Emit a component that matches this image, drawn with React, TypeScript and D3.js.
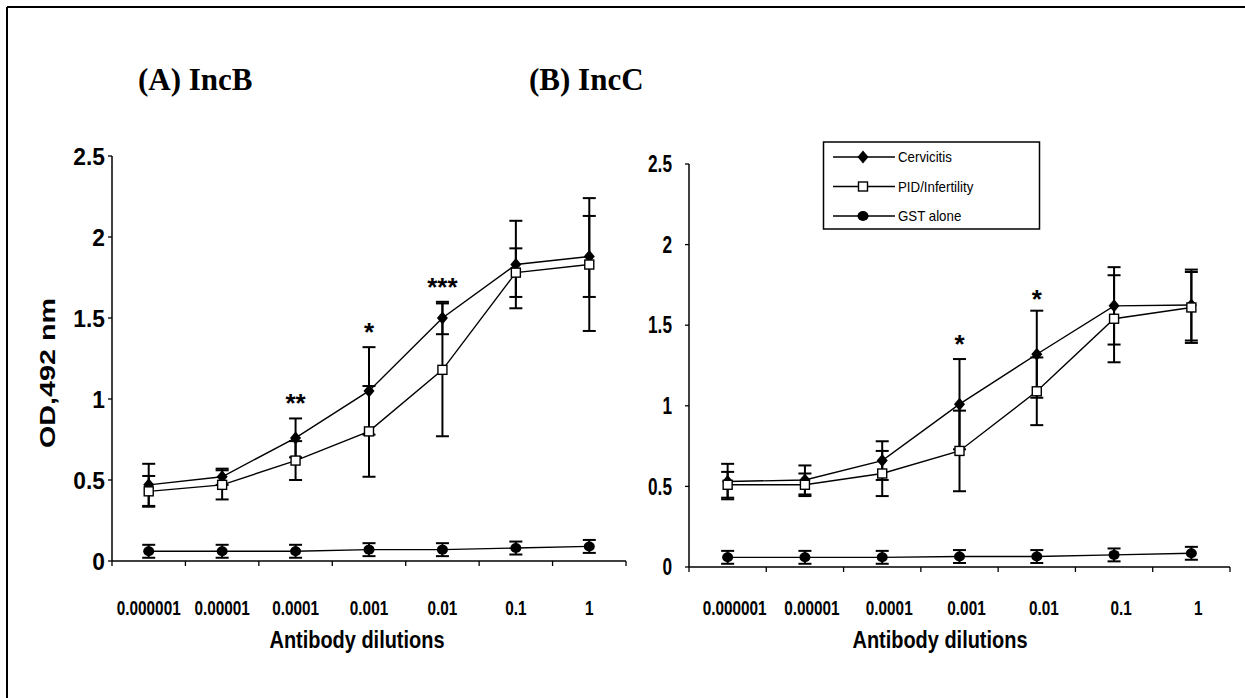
import React from 'react';
import * as d3 from 'd3';

// ---------- data ----------
const dilutions = ["0.000001", "0.00001", "0.0001", "0.001", "0.01", "0.1", "1"];
const seriesNames = ["Cervicitis", "PID/Infertility", "GST alone"];
const yTicks = [0, 0.5, 1, 1.5, 2, 2.5];
const yTickLabels = ["0", "0.5", "1", "1.5", "2", "2.5"];

// (A) IncB
const incBCervicitis = [0.47, 0.52, 0.76, 1.05, 1.50, 1.83, 1.88];
const incBCervicitisErr = [0.13, 0.05, 0.12, 0.27, 0.10, 0.27, 0.25];
const incBPid = [0.43, 0.47, 0.62, 0.80, 1.18, 1.78, 1.83];
const incBPidErr = [0.095, 0.09, 0.12, 0.28, 0.41, 0.15, 0.41];
const incBGst = [0.06, 0.06, 0.06, 0.07, 0.07, 0.08, 0.09];
const incBGstErr = [0.04, 0.04, 0.04, 0.04, 0.04, 0.04, 0.04];
const incBSigLabels = ["", "", "**", "*", "***", "", ""];
const incBSigLevels = [0, 0, 1.01, 1.45, 1.73, 0, 0];

// (B) IncC
const incCCervicitis = [0.53, 0.54, 0.66, 1.01, 1.32, 1.62, 1.625];
const incCCervicitisErr = [0.11, 0.09, 0.12, 0.28, 0.27, 0.24, 0.22];
const incCPid = [0.51, 0.51, 0.58, 0.72, 1.09, 1.54, 1.61];
const incCPidErr = [0.08, 0.07, 0.14, 0.25, 0.21, 0.27, 0.22];
const incCGst = [0.06, 0.06, 0.06, 0.065, 0.065, 0.075, 0.085];
const incCGstErr = [0.04, 0.04, 0.04, 0.04, 0.04, 0.04, 0.04];
const incCSigLabels = ["", "", "", "*", "*", "", ""];
const incCSigLevels = [0, 0, 0, 1.42, 1.70, 0, 0];

const titles = ["(A) IncB", "(B) IncC"];
const xAxisTitle = "Antibody dilutions";
const yAxisTitle = "OD,492 nm";

// ---------- drawing ----------
const SANS = "'Liberation Sans', Arial, Helvetica, sans-serif";
const SERIF = "'Liberation Serif', 'Times New Roman', serif";

type MarkerType = 'diamond' | 'square' | 'circle';

function Marker({ type, x, y }: { type: MarkerType; x: number; y: number }) {
  if (type === 'diamond') {
    return <path d={`M${x},${y - 6.5}L${x + 5.5},${y}L${x},${y + 6.5}L${x - 5.5},${y}Z`} fill="#000" />;
  }
  if (type === 'square') {
    return <rect x={x - 4.5} y={y - 4.5} width={9} height={9} fill="#fff" stroke="#000" strokeWidth={1.4} />;
  }
  return <ellipse cx={x} cy={y} rx={5.5} ry={5} fill="#000" />;
}

function SText({ x, y, sx, size, anchor, children, weight = 'bold' }: any) {
  return (
    <text
      transform={`translate(${x},${y}) scale(${sx},1)`}
      textAnchor={anchor}
      fontSize={size}
      fontFamily={SANS}
      fontWeight={weight}
      fill="#000"
    >
      {children}
    </text>
  );
}

interface PanelProps {
  x0: number; x1: number; yTop: number; yBottom: number;
  series: { vals: number[]; errs: number[]; marker: MarkerType }[];
  sigLabels: string[]; sigLevels: number[];
  yLabelGap: number; yLabelSx: number; yLabelSize: number;
  xLabelShift: number;
  xTitleX: number;
}

function Panel(p: PanelProps) {
  const x = d3.scaleBand<string>().domain(dilutions).range([p.x0, p.x1]);
  const y = d3.scaleLinear().domain([0, 2.5]).range([p.yBottom, p.yTop]);
  const cx = (i: number) => (x(dilutions[i]) as number) + x.bandwidth() / 2;
  const line = d3.line<number>().x((_, i) => cx(i)).y((v) => y(v));
  const tickXs = [...dilutions.map((d) => x(d) as number), p.x1];
  const capHalf = 6.5;

  return (
    <g>
      {/* axes */}
      <line x1={p.x0} x2={p.x0} y1={y(0)} y2={y(2.5)} stroke="#000" strokeWidth={1.5} />
      <line x1={p.x0} x2={p.x1} y1={y(0)} y2={y(0)} stroke="#000" strokeWidth={1.5} />
      {yTicks.map((t, i) => (
        <g key={'yt' + i}>
          <line x1={p.x0 - 4} x2={p.x0} y1={y(t)} y2={y(t)} stroke="#000" strokeWidth={1.3} />
          <SText x={p.x0 - p.yLabelGap} y={y(t) + p.yLabelSize * 0.36} sx={p.yLabelSx} size={p.yLabelSize} anchor="end">
            {yTickLabels[i]}
          </SText>
        </g>
      ))}
      {tickXs.map((tx, i) => (
        <line key={'xt' + i} x1={tx} x2={tx} y1={y(0)} y2={y(0) + 5} stroke="#000" strokeWidth={1.3} />
      ))}
      {dilutions.map((d, i) => (
        <SText key={'xl' + i} x={cx(i) + p.xLabelShift} y={615} sx={0.73} size={21} anchor="middle">
          {d}
        </SText>
      ))}
      <text
        x={p.xTitleX}
        y={648}
        textAnchor="middle"
        fontFamily={SANS}
        fontWeight="bold"
        fontSize={23}
        textLength={175}
        lengthAdjust="spacingAndGlyphs"
      >
        {xAxisTitle}
      </text>

      {/* series lines */}
      {p.series.map((s, k) => (
        <path key={'ln' + k} d={line(s.vals) as string} fill="none" stroke="#000" strokeWidth={1.4} />
      ))}
      {/* error bars */}
      {p.series.map((s, k) =>
        s.vals.map((v, i) => {
          const xx = cx(i);
          const top = y(v + s.errs[i]);
          const bot = y(v - s.errs[i]);
          return (
            <g key={'eb' + k + '-' + i} stroke="#000" strokeWidth={2}>
              <line x1={xx} x2={xx} y1={top} y2={bot} />
              <line x1={xx - capHalf} x2={xx + capHalf} y1={top} y2={top} />
              <line x1={xx - capHalf} x2={xx + capHalf} y1={bot} y2={bot} />
            </g>
          );
        })
      )}
      {/* markers */}
      {p.series.map((s, k) =>
        s.vals.map((v, i) => <Marker key={'mk' + k + '-' + i} type={s.marker} x={cx(i)} y={y(v)} />)
      )}
      {/* significance */}
      {p.sigLabels.map((l, i) =>
        l ? (
          <text
            key={'sg' + i}
            x={cx(i)}
            y={y(p.sigLevels[i]) + 26 * 0.58}
            textAnchor="middle"
            fontFamily={SANS}
            fontWeight="bold"
            fontSize={26}
          >
            {l}
          </text>
        ) : null
      )}
    </g>
  );
}

export default function App() {
  const legendItems: { name: string; marker: MarkerType }[] = [
    { name: seriesNames[0], marker: 'diamond' },
    { name: seriesNames[1], marker: 'square' },
    { name: seriesNames[2], marker: 'circle' },
  ];
  return (
    <svg
      width={1245}
      height={698}
      viewBox="0 0 1245 698"
      style={{ position: 'absolute', left: 0, top: 0, background: '#fff' }}
    >
      <rect x={0} y={0} width={1245} height={698} fill="#fff" />
      {/* frame */}
      <line x1={7} x2={1245} y1={7} y2={7} stroke="#000" strokeWidth={2} />
      <line x1={7} x2={7} y1={7} y2={698} stroke="#000" strokeWidth={2} />

      {/* titles */}
      <text x={138} y={90} fontFamily={SERIF} fontWeight="bold" fontSize={31}>{titles[0]}</text>
      <text x={529} y={90} fontFamily={SERIF} fontWeight="bold" fontSize={31}>{titles[1]}</text>

      {/* y axis title */}
      <text
        transform="translate(55,373) rotate(-90)"
        textAnchor="middle"
        fontFamily={SANS}
        fontWeight="bold"
        fontSize={22}
        textLength={150}
        lengthAdjust="spacingAndGlyphs"
      >
        {yAxisTitle}
      </text>

      <Panel
        x0={112} x1={626} yTop={156} yBottom={561}
        series={[
          { vals: incBGst, errs: incBGstErr, marker: 'circle' },
          { vals: incBCervicitis, errs: incBCervicitisErr, marker: 'diamond' },
          { vals: incBPid, errs: incBPidErr, marker: 'square' },
        ]}
        sigLabels={incBSigLabels} sigLevels={incBSigLevels}
        yLabelGap={7} yLabelSx={0.95} yLabelSize={24}
        xLabelShift={0}
        xTitleX={357}
      />
      <Panel
        x0={689} x1={1230} yTop={164} yBottom={567}
        series={[
          { vals: incCGst, errs: incCGstErr, marker: 'circle' },
          { vals: incCCervicitis, errs: incCCervicitisErr, marker: 'diamond' },
          { vals: incCPid, errs: incCPidErr, marker: 'square' },
        ]}
        sigLabels={incCSigLabels} sigLevels={incCSigLevels}
        yLabelGap={17} yLabelSx={0.75} yLabelSize={23}
        xLabelShift={7}
        xTitleX={940}
      />

      {/* legend */}
      <rect x={823.5} y={142} width={216} height={87} fill="#fff" stroke="#000" strokeWidth={1.5} />
      {legendItems.map((it, i) => {
        const ly = 157 + i * 29.5;
        return (
          <g key={'lg' + i}>
            <line x1={833} x2={895} y1={ly} y2={ly} stroke="#000" strokeWidth={1.4} />
            <Marker type={it.marker} x={863} y={ly} />
            <SText x={898} y={ly + 5} sx={0.95} size={14} anchor="start" weight="normal">
              {it.name}
            </SText>
          </g>
        );
      })}
    </svg>
  );
}
